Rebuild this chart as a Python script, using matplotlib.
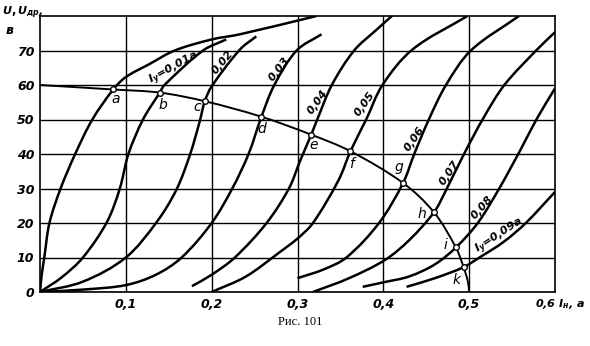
import numpy as np
import matplotlib
matplotlib.use("Agg")
import matplotlib.pyplot as plt
from matplotlib.path import Path
from matplotlib.patches import PathPatch

plt.rcParams['font.family'] = ['Liberation Sans Narrow', 'DejaVu Sans']
plt.rcParams['mathtext.fontset'] = 'custom'
plt.rcParams['mathtext.it'] = 'DejaVu Sans:italic:bold'
plt.rcParams['mathtext.rm'] = 'DejaVu Sans:bold'

# управляющий ток Iу, а
iy_values = [0, 0.01, 0.02, 0.03, 0.04, 0.05, 0.06, 0.07, 0.08, 0.09]

# характеристики U(Iн) для разных Iу
c00_x = [0, 0.002, 0.005, 0.011, 0.024, 0.041, 0.061, 0.0853, 0.1, 0.127, 0.157, 0.2, 0.233, 0.322]
c00_y = [0, 5, 10, 20, 30, 40, 50, 58.7, 62.3, 66, 70, 73.2, 74.7, 80]
c01_x = [0, 0.025, 0.05, 0.078, 0.093, 0.103, 0.12, 0.1395, 0.145, 0.19, 0.217]
c01_y = [0, 4.2, 10, 20.3, 30, 40, 50, 57.8, 60, 70, 73.2]
c02_x = [0, 0.05, 0.1, 0.136, 0.159, 0.175, 0.186, 0.192, 0.2, 0.233, 0.252]
c02_y = [0, 3, 10, 20.3, 29.7, 40, 49.4, 55.3, 59.6, 70.3, 74.1]
c03_x = [0, 0.05, 0.1, 0.135, 0.165, 0.2, 0.224, 0.243, 0.258, 0.273, 0.299, 0.328]
c03_y = [0, 0.7, 2, 5, 10, 20, 30, 40, 50.8, 60, 70, 74.7]
c04_x = [0.177, 0.2, 0.227, 0.264, 0.29, 0.303, 0.316, 0.323, 0.34, 0.366, 0.392, 0.41]
c04_y = [1.7, 5, 10, 20, 30, 38, 45.6, 50, 60, 70, 76, 80]
c05_x = [0.2, 0.24, 0.279, 0.3, 0.318, 0.348, 0.3617, 0.38, 0.399, 0.434, 0.498]
c05_y = [0, 4.5, 11.5, 15.5, 20, 32.5, 40.8, 50, 60, 70.3, 80]
c06_x = [0.3, 0.33, 0.357, 0.395, 0.423, 0.436, 0.453, 0.473, 0.502, 0.558]
c06_y = [4, 6.5, 10, 20, 31.6, 40, 50, 60, 70, 80]
c07_x = [0.318, 0.36, 0.402, 0.43, 0.459, 0.473, 0.494, 0.517, 0.541, 0.578, 0.6]
c07_y = [0, 4, 9.3, 15, 23.1, 29.5, 40, 50.6, 60, 70, 75.3]
c08_x = [0.376, 0.4, 0.43, 0.46, 0.4845, 0.51, 0.535, 0.56, 0.579, 0.6]
c08_y = [1.5, 2.8, 4.5, 8, 12.9, 20, 30, 41.3, 50.3, 59]
c09_x = [0.427, 0.46, 0.4935, 0.512, 0.54, 0.566, 0.6]
c09_y = [1.5, 4, 7.2, 10, 14.5, 20, 29]

curves_x = [c00_x, c01_x, c02_x, c03_x, c04_x, c05_x, c06_x, c07_x, c08_x, c09_x]
curves_y = [c00_y, c01_y, c02_y, c03_y, c04_y, c05_y, c06_y, c07_y, c08_y, c09_y]

# рабочие точки a..k и линия через них
pt_names = ['a', 'b', 'c', 'd', 'e', 'f', 'g', 'h', 'i', 'k']
pt_x = [0.0853, 0.1395, 0.192, 0.258, 0.316, 0.3617, 0.423, 0.459, 0.4845, 0.4935]
pt_y = [58.7, 57.8, 55.3, 50.8, 45.6, 40.8, 31.6, 23.1, 12.9, 7.2]
load_x = [0] + pt_x + [0.4985, 0.5]
load_y = [60] + pt_y + [3, 0]

x_ticks = [0.1, 0.2, 0.3, 0.4, 0.5]
x_tick_labels = ['0,1', '0,2', '0,3', '0,4', '0,5']
y_ticks = [0, 10, 20, 30, 40, 50, 60, 70]
y_tick_labels = ['0', '10', '20', '30', '40', '50', '60', '70']

curve_labels = [r'$I_у$=0,01а', '0,02', '0,03', '0,04', '0,05', '0,06', '0,07', '0,08', r'$I_у$=0,09а']
label_x = [0.1561, 0.2132, 0.2785, 0.3239, 0.3787, 0.4363, 0.4771, 0.5156, 0.5359]
label_y = [64.8, 66.7, 64.5, 55.2, 54.5, 44.3, 34.6, 24.5, 16.2]
label_rot = [29, 50, 52, 54, 54, 55, 55, 48, 33]

pt_offsets = [(2, -10), (3, -12), (-8, -6), (0, -12), (2, -10), (1, -13),
              (-4, 16), (-12, -2), (-10, 2), (-7, -13)]

XLIM = (0, 0.6)
YLIM = (0, 80)


def smooth_path(xs, ys, sx, sy):
    """Кривая Безье через заданные точки (касательные по соседним точкам)."""
    p = np.column_stack([np.asarray(xs) * sx, np.asarray(ys) * sy])
    n = len(p)
    tang = np.zeros_like(p)
    for i in range(n):
        d = p[min(i + 1, n - 1)] - p[max(i - 1, 0)]
        tang[i] = d / np.hypot(*d)
    verts = [p[0]]
    codes = [Path.MOVETO]
    for i in range(n - 1):
        L = np.hypot(*(p[i + 1] - p[i]))
        verts += [p[i] + tang[i] * L / 3, p[i + 1] - tang[i + 1] * L / 3, p[i + 1]]
        codes += [Path.CURVE4] * 3
    verts = np.array(verts) / [sx, sy]
    return Path(verts, codes)


fig = plt.figure(figsize=(5.9, 3.46), dpi=100)
ax = fig.add_axes([40 / 590, 54 / 346, 515 / 590, 276 / 346])
ax.set_xlim(*XLIM)
ax.set_ylim(*YLIM)
sx = 515 / (XLIM[1] - XLIM[0])
sy = 276 / (YLIM[1] - YLIM[0])

ax.set_xticks(x_ticks)
ax.set_xticklabels(x_tick_labels)
ax.set_yticks(y_ticks)
ax.set_yticklabels(y_tick_labels)
ax.tick_params(length=0, labelsize=9, pad=4)
for lbl in ax.get_xticklabels() + ax.get_yticklabels():
    lbl.set_style('italic')
    lbl.set_weight('bold')
ax.grid(True, color='black', lw=1.0)
for sp in ax.spines.values():
    sp.set_linewidth(1.2)

for xs, ys in zip(curves_x, curves_y):
    ax.add_patch(PathPatch(smooth_path(xs, ys, sx, sy), fill=False, ec='black', lw=1.8))

ax.add_patch(PathPatch(smooth_path(load_x, load_y, sx, sy), fill=False, ec='black', lw=1.4))
ax.plot(pt_x, pt_y, 'o', ms=4, mfc='white', mec='black', mew=1.0, zorder=5)

for name, x, y, (dx, dy) in zip(pt_names, pt_x, pt_y, pt_offsets):
    ax.annotate(name, (x, y), xytext=(dx, dy), textcoords='offset pixels',
                ha='center', va='center', fontsize=10, style='italic')

for txt, x, y, r in zip(curve_labels, label_x, label_y, label_rot):
    ax.text(x, y, txt, rotation=r, rotation_mode='anchor', ha='center', va='center',
            fontsize=8, style='italic', weight='bold')

fig.text(2 / 590, 1 - 15 / 346, r'$U,U_{др}$,', fontsize=8, weight='bold', style='italic',
         va='baseline')
fig.text(6 / 590, 1 - 30 / 346, 'в', fontsize=9, weight='bold', style='italic', va='center')
fig.text(535 / 590, 1 - 304 / 346, r'0,6 $I_н$, а', fontsize=8, weight='bold', style='italic',
         va='center')
fig.text(300 / 590, 1 - 322 / 346, 'Рис. 101', fontsize=9, family=['Liberation Serif', 'DejaVu Serif'],
         ha='center', va='center')

fig.savefig('out.png', dpi=100)
